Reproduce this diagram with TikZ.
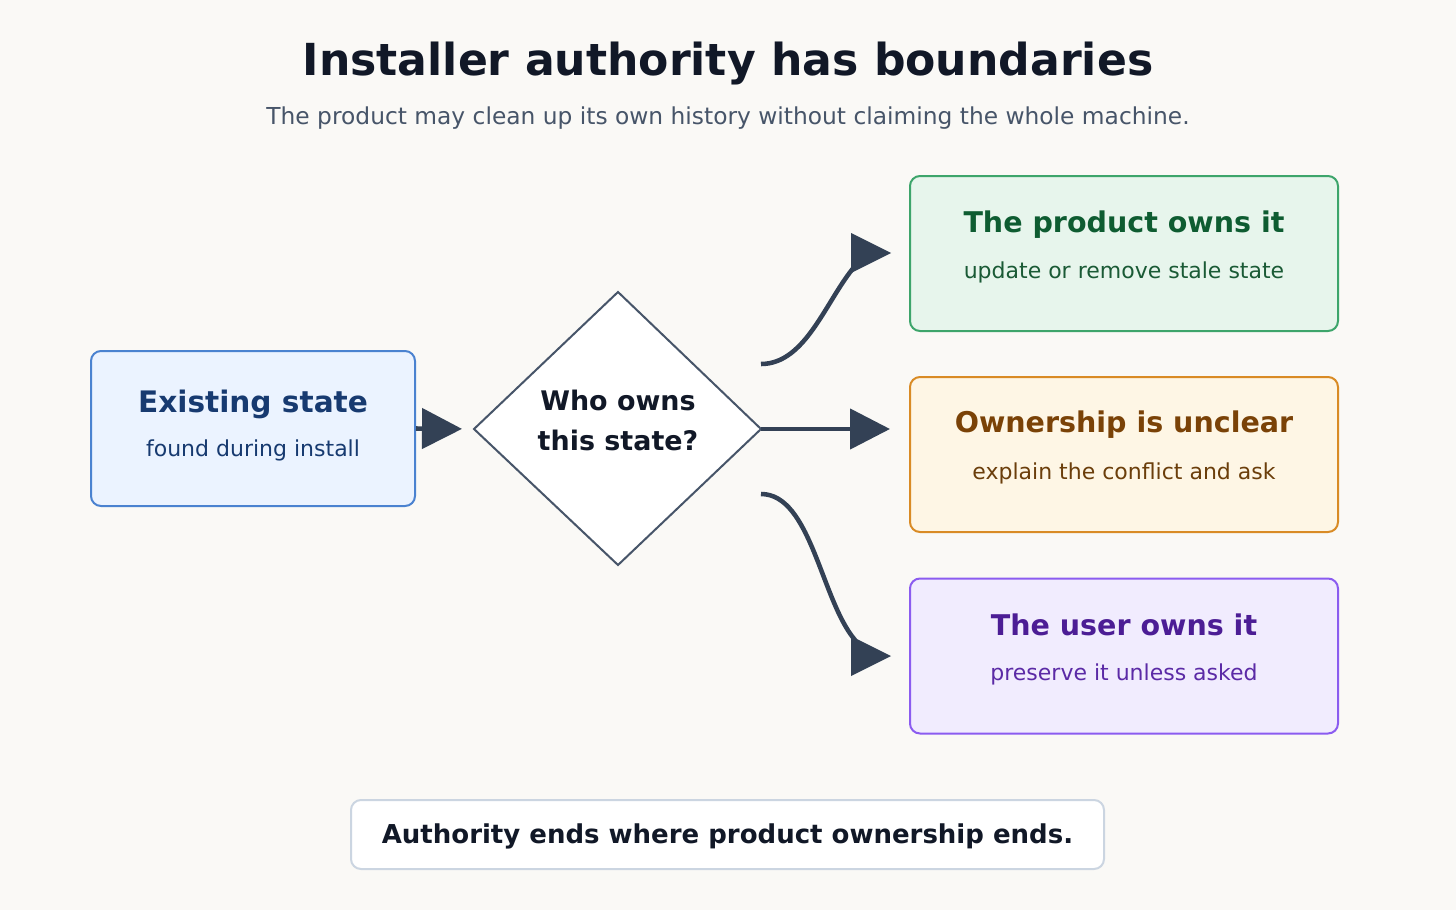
\documentclass[tikz,border=0pt]{standalone}
\usepackage{fontspec}
\setmainfont{DejaVu Sans}
\usetikzlibrary{arrows.meta}
\definecolor{bg}{HTML}{FAF9F6}
\definecolor{titlecol}{HTML}{111827}
\definecolor{subcol}{HTML}{475569}
\definecolor{conn}{HTML}{334155}
\definecolor{blfill}{HTML}{EBF3FF}
\definecolor{bldraw}{HTML}{4A82D0}
\definecolor{bltext}{HTML}{173A70}
\definecolor{grfill}{HTML}{E7F5EC}
\definecolor{grdraw}{HTML}{3DA56B}
\definecolor{grtitle}{HTML}{0E5C31}
\definecolor{grsub}{HTML}{1A5A35}
\definecolor{orfill}{HTML}{FEF6E5}
\definecolor{ordraw}{HTML}{D98B25}
\definecolor{ortitle}{HTML}{7A4207}
\definecolor{orsub}{HTML}{6B3E0B}
\definecolor{pufill}{HTML}{F1ECFE}
\definecolor{pudraw}{HTML}{8B5CF0}
\definecolor{putitle}{HTML}{4C1D95}
\definecolor{pusub}{HTML}{5B2AA6}
\definecolor{notedraw}{HTML}{CBD5E1}
\definecolor{diadraw}{HTML}{475569}
\tikzset{
  box/.style={rounded corners=7.5pt, line width=1.5pt, minimum width=321pt, minimum height=116.25pt, inner sep=0pt},
  boxtitle/.style={anchor=base, inner sep=0pt, font=\bfseries\fontsize{21.4}{26}\selectfont},
  boxsub/.style={anchor=base, inner sep=0pt, font=\fontsize{16.5}{20}\selectfont},
  qtext/.style={anchor=base, inner sep=0pt, text=titlecol, font=\bfseries\fontsize{20.2}{24}\selectfont},
  connline/.style={draw=conn, line width=3.4pt},
  tipfill/.style={fill=conn},
}
\begin{document}
\begin{tikzpicture}[x=0.75pt,y=-0.75pt]
\path[fill=bg] (0,0) rectangle (1456,910);
\useasboundingbox (0,0) rectangle (1456,910);

% title
\node[anchor=base, inner sep=0pt, text=titlecol, font=\bfseries\fontsize{33.1}{40}\selectfont] (title) at (728,75) {Installer authority has boundaries};
\node[anchor=base, inner sep=0pt, text=subcol, font=\fontsize{17.5}{21}\selectfont] (subtitle) at (728,124) {The product may clean up its own history without claiming the whole machine.};

% existing state
\node[box, fill=blfill, draw=bldraw, minimum width=243pt] (exist) at (253,428.5) {};
\node[boxtitle, text=bltext, font=\bfseries\fontsize{22.2}{26}\selectfont] (existT) at (253,412) {Existing state};
\node[boxsub, text=bltext] (existS) at (253,456) {found during install};

% diamond
\coordinate (dT) at (618,292);
\coordinate (dR) at (761,429);
\coordinate (dB) at (618,565);
\coordinate (dL) at (474,429);
\draw[fill=white, draw=diadraw, line width=1.5pt, line join=miter] (dT) -- (dR) -- (dB) -- (dL) -- cycle;
\node[qtext] (q1) at (618,410) {Who owns};
\node[qtext] (q2) at (618,450) {this state?};

% outcome boxes
\node[box, fill=grfill, draw=grdraw] (prod) at (1124,253.5) {};
\node[boxtitle, text=grtitle] (prodT) at (1124,232) {The product owns it};
\node[boxsub, text=grsub] (prodS) at (1124,278) {update or remove stale state};

\node[box, fill=orfill, draw=ordraw] (uncl) at (1124,454.5) {};
\node[boxtitle, text=ortitle] (unclT) at (1124,432) {Ownership is unclear};
\node[boxsub, text=orsub] (unclS) at (1124,479) {explain the conflict and ask};

\node[box, fill=pufill, draw=pudraw] (user) at (1124,656) {};
\node[boxtitle, text=putitle] (userT) at (1124,635) {The user owns it};
\node[boxsub, text=pusub] (userS) at (1124,680) {preserve it unless asked};

% note
\node[fill=white, draw=notedraw, line width=1.5pt, rounded corners=7.5pt, minimum width=564.75pt, minimum height=51.75pt, inner sep=0pt] (note) at (727.5,834.5) {};
\node[anchor=base, inner sep=0pt, text=titlecol, font=\bfseries\fontsize{19.5}{23}\selectfont] (noteT) at (727.5,843) {Authority ends where product ownership ends.};

% connectors
\draw[connline, -{Triangle[length=30pt,width=30pt]}, shorten >=9pt] (exist.east) -- (dL);
\draw[connline, -{Triangle[length=30pt,width=30pt]}, shorten >=14.25pt] (dR) -- (dR -| uncl.west);

\coordinate (s1) at (761,364);
\coordinate (e1) at (855,266);
\draw[connline] (s1) .. controls (806,364) and (826,300) .. (e1);
\fill[tipfill] (851,233) -- (891,253) -- (851,273) -- cycle;

\coordinate (s3) at (761,494);
\coordinate (e3) at (855,640);
\draw[connline] (s3) .. controls (811,494) and (821,600) .. (e3);
\fill[tipfill] (851,636) -- (891,656) -- (851,676) -- cycle;
\end{tikzpicture}
\end{document}
